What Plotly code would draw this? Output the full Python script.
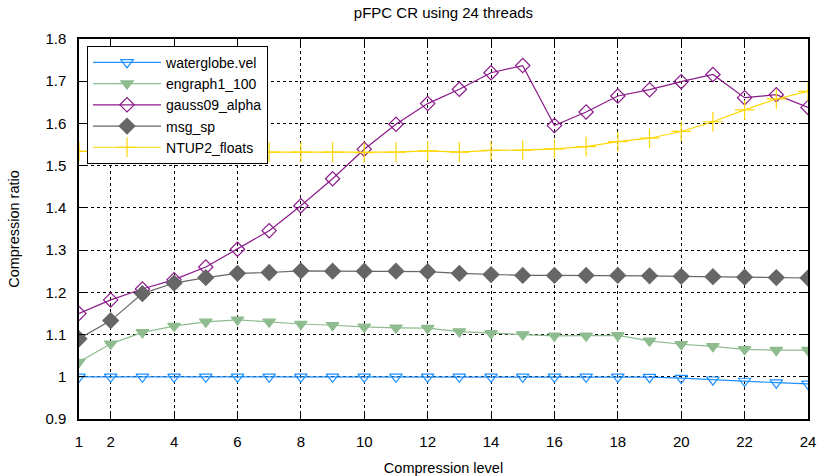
import plotly.graph_objects as go

levels = list(range(1, 25))
x_ticks = [1, 2, 4, 6, 8, 10, 12, 14, 16, 18, 20, 22, 24]
y_ticks = [0.9, 1.0, 1.1, 1.2, 1.3, 1.4, 1.5, 1.6, 1.7, 1.8]
y_tick_labels = ["0.9", "1", "1.1", "1.2", "1.3", "1.4", "1.5", "1.6", "1.7", "1.8"]

waterglobe_vel = [1.0, 1.0, 1.0, 1.0, 1.0, 1.0, 1.0, 1.0, 1.0, 1.0, 1.0, 1.0,
                  1.0, 1.0, 1.0, 1.0, 1.0, 1.0, 0.999, 0.997, 0.993, 0.99, 0.986, 0.983]
engraph1_100 = [1.035, 1.078, 1.105, 1.12, 1.13, 1.135, 1.13, 1.125, 1.122, 1.118, 1.116, 1.115,
                1.107, 1.103, 1.1, 1.097, 1.097, 1.098, 1.085, 1.077, 1.072, 1.065, 1.063, 1.063]
gauss09_alpha = [1.15, 1.182, 1.208, 1.23, 1.26, 1.302, 1.346, 1.405, 1.469, 1.539, 1.598, 1.647,
                 1.681, 1.72, 1.737, 1.595, 1.627, 1.665, 1.68, 1.699, 1.716, 1.661, 1.668, 1.638]
msg_sp = [1.09, 1.133, 1.197, 1.222, 1.235, 1.245, 1.247, 1.251, 1.25, 1.25, 1.25, 1.249,
          1.245, 1.242, 1.24, 1.24, 1.24, 1.24, 1.239, 1.238, 1.237, 1.236, 1.235, 1.234]
ntup2_floats = [1.534, 1.534, 1.533, 1.533, 1.534, 1.535, 1.532, 1.532, 1.532, 1.531, 1.532, 1.535,
                1.532, 1.536, 1.537, 1.54, 1.545, 1.557, 1.565, 1.581, 1.604, 1.632, 1.658, 1.676]

series = [
    ("waterglobe.vel", waterglobe_vel, "#1E90FF", "triangle-down-open", 11),
    ("engraph1_100", engraph1_100, "#8FBC8F", "triangle-down", 11),
    ("gauss09_alpha", gauss09_alpha, "#8B1A8B", "diamond-open", 11),
    ("msg_sp", msg_sp, "#666666", "diamond", 12),
    ("NTUP2_floats", ntup2_floats, "#FFD700", "cross-thin-open", 14),
]

fig = go.Figure()
for name, vals, color, sym, size in series:
    fig.add_trace(go.Scatter(
        x=levels, y=vals, name=name, mode="lines+markers",
        line=dict(color=color, width=1.2),
        marker=dict(symbol=sym, size=size, color=color,
                    line=dict(color=color, width=1.2)),
    ))

W, H = 817, 476
font = "Liberation Sans, Arial, Helvetica, sans-serif"
fig.update_layout(
    width=W, height=H,
    margin=dict(l=79, r=9, t=39, b=57, autoexpand=False),
    paper_bgcolor="white", plot_bgcolor="white",
    font=dict(family=font, size=15, color="black"),
    title=dict(text="pFPC CR using 24 threads", x=0.5, xanchor="center",
               xref="paper", y=1 - 13 / H, yanchor="middle", font=dict(size=15)),
    legend=dict(x=0.011, y=0.982, xanchor="left", yanchor="top",
                bordercolor="black", borderwidth=1, bgcolor="white",
                font=dict(size=14), tracegroupgap=0, itemwidth=68),
    showlegend=True,
)
fig.update_xaxes(
    range=[1, 24], tickvals=x_ticks, ticktext=[str(t) for t in x_ticks],
    showgrid=True, gridcolor="black", griddash="dot", gridwidth=1,
    showline=True, linecolor="black", linewidth=1.5, mirror="ticks",
    ticks="inside", ticklen=6, tickcolor="black", ticklabelstandoff=8,
    ticklabeloverflow="allow",
    tickfont=dict(size=15),
    zeroline=False, automargin=False,
    title=dict(text="Compression level", standoff=14, font=dict(size=14.5)),
)
fig.update_yaxes(
    range=[0.9, 1.8], tickvals=y_ticks, ticktext=y_tick_labels,
    showgrid=True, gridcolor="black", griddash="dot", gridwidth=1,
    showline=True, linecolor="black", linewidth=1.5, mirror="ticks",
    ticks="inside", ticklen=6, tickcolor="black", ticklabelstandoff=8,
    ticklabeloverflow="allow",
    tickfont=dict(size=15),
    zeroline=False, automargin=False,
    title=dict(text="Compression ratio", standoff=22, font=dict(size=14.5)),
)

fig.write_html(
    "out.html",
    config={"displayModeBar": False},
    post_script="document.body.style.margin='0';document.body.style.overflow='hidden';",
)
